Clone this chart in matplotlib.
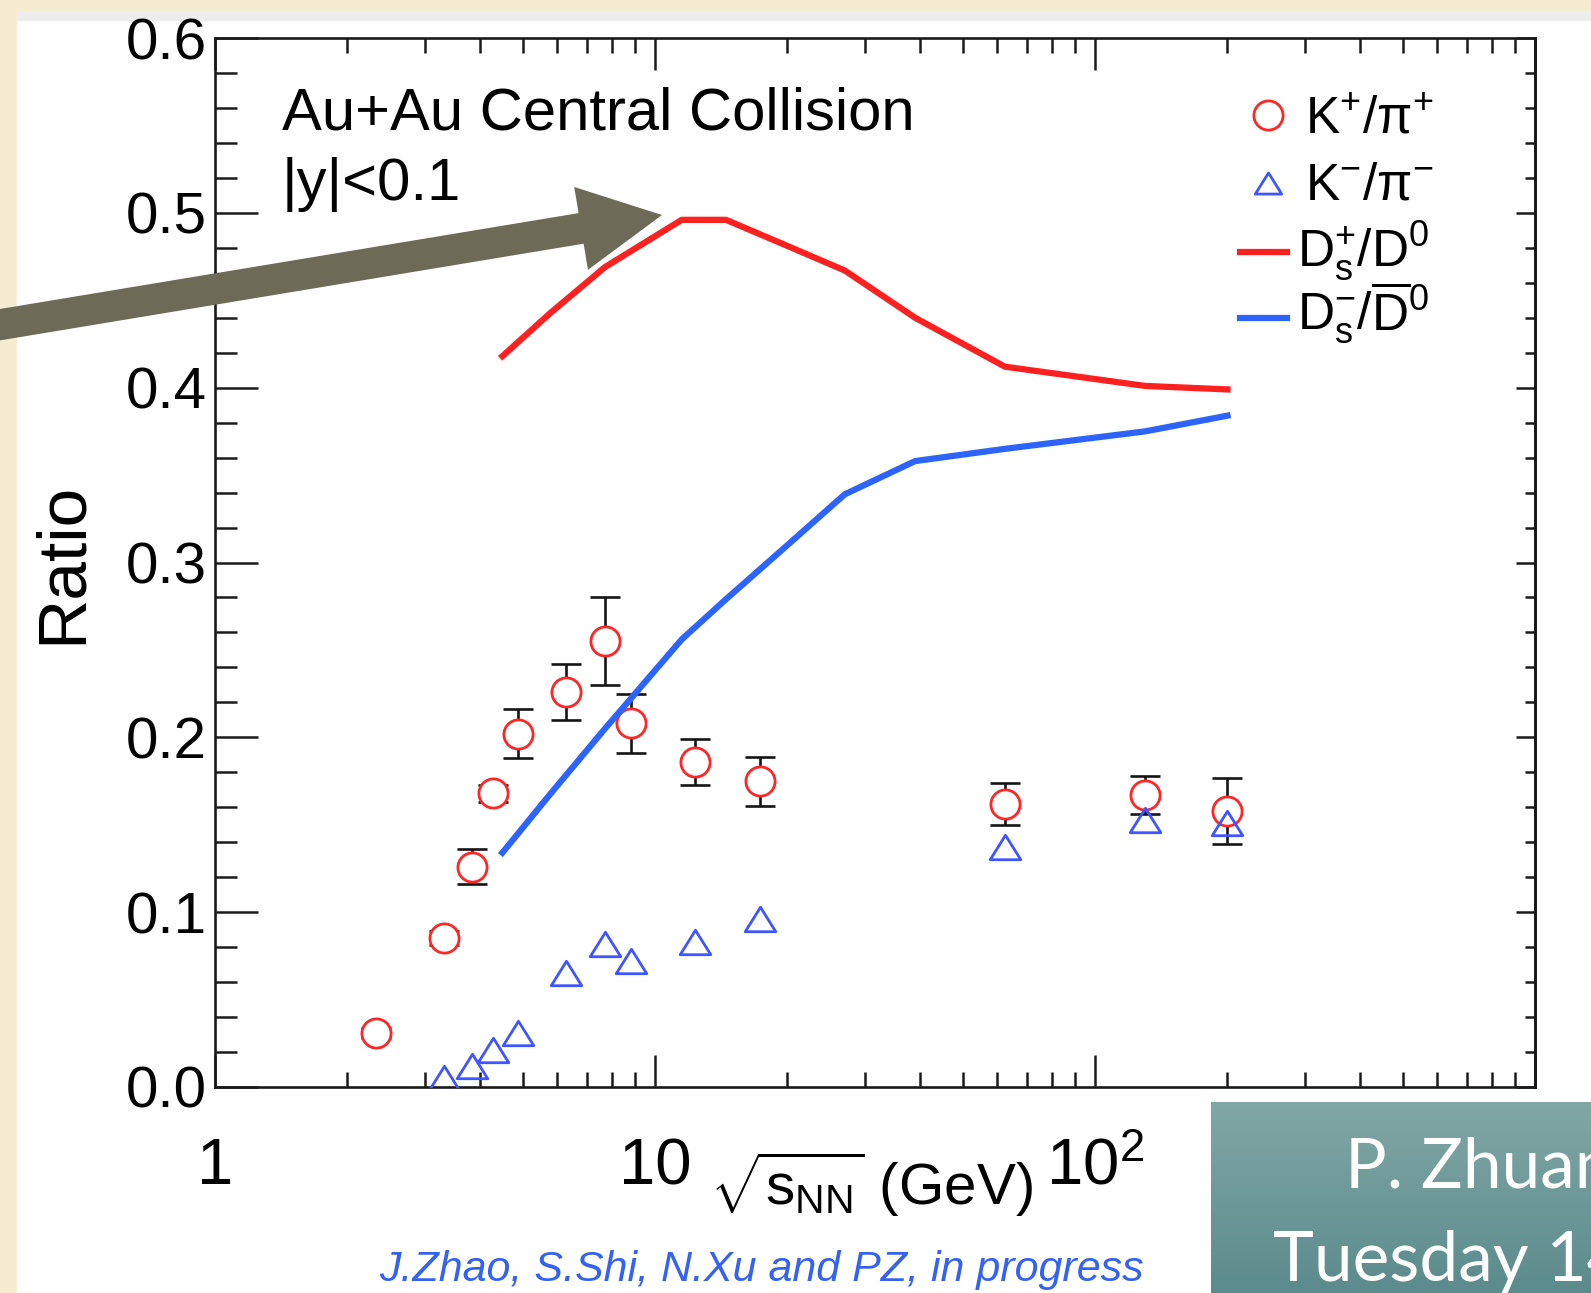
import numpy as np
import matplotlib
matplotlib.use("Agg")
import matplotlib.pyplot as plt
import matplotlib.transforms as mtransforms
from matplotlib.patches import FancyArrow, Rectangle
from matplotlib.lines import Line2D
from matplotlib.path import Path
from matplotlib.colors import LinearSegmentedColormap
from matplotlib.ticker import LogLocator, NullFormatter, MultipleLocator, FixedLocator

plt.rcParams['font.family'] = ['Liberation Sans', 'DejaVu Sans']
plt.rcParams['mathtext.fontset'] = 'custom'
plt.rcParams['mathtext.rm'] = 'Liberation Sans'
plt.rcParams['mathtext.it'] = 'Liberation Sans:italic'
plt.rcParams['mathtext.bf'] = 'Liberation Sans:bold'

# ---- K+/pi+ measurements (AGS, SPS, RHIC) ----
kp_energy = [2.32, 3.32, 3.84, 4.29, 4.88, 6.27, 7.7, 8.8, 12.3, 17.3, 62.4, 130, 200]
kp_ratio = [0.031, 0.085, 0.126, 0.168, 0.202, 0.226, 0.255, 0.208, 0.186, 0.175, 0.162, 0.167, 0.158]
kp_err = [0.003, 0.004, 0.010, 0.005, 0.014, 0.016, 0.025, 0.017, 0.013, 0.014, 0.012, 0.011, 0.019]

# ---- K-/pi- measurements ----
km_energy = [3.32, 3.84, 4.29, 4.88, 6.27, 7.7, 8.8, 12.3, 17.3, 62.4, 130, 200]
km_ratio = [0.005, 0.012, 0.021, 0.031, 0.065, 0.082, 0.072, 0.083, 0.096, 0.137, 0.153, 0.151]

# ---- model curves for Ds/D0 ----
model_energy = [4.5, 5.8, 7.7, 11.5, 14.5, 19.6, 27, 39, 62.4, 130, 200]
ds_plus = [0.418, 0.443, 0.469, 0.496, 0.496, 0.482, 0.467, 0.440, 0.412, 0.401, 0.399]
ds_minus = [0.134, 0.168, 0.205, 0.256, 0.279, 0.308, 0.339, 0.358, 0.365, 0.375, 0.384]

x_ticks = [1, 10, 100, 1000]
x_ticklabels = ['1', '10', '$10^{2}$', '']
y_ticks = [0.0, 0.1, 0.2, 0.3, 0.4, 0.5, 0.6]

W, H = 1591, 1293
fig = plt.figure(figsize=(W / 100, H / 100), dpi=100)
fig.patch.set_facecolor('#f6ecd1')

# pixel coords measured from the top-left corner
px = mtransforms.Affine2D().scale(1, -1).translate(0, H)

# white slide image with a thin grey strip on top
fig.add_artist(Rectangle((17, 12), W, H, transform=px, color='white', zorder=-5))
fig.add_artist(Rectangle((17, 12), W, 8, transform=px, color='#ededed', zorder=-4))

ax = fig.add_axes([215 / W, 1 - 1087 / H, 1320 / W, 1049 / H])
ax.set_facecolor('white')
ax.set_xscale('log')
ax.set_xlim(1, 1000)
ax.set_ylim(0, 0.6)

red = '#ff2626'
blue = '#3f55ff'

ax.errorbar(kp_energy, kp_ratio, yerr=kp_err, fmt='none', ecolor='#151515',
            elinewidth=1.9, capsize=11, capthick=1.9, zorder=3)
ax.plot(kp_energy, kp_ratio, 'o', ms=21, mfc='white', mec=red, mew=2.0, zorder=4)

tri = Path([(0, 0.8), (-1, -0.8), (1, -0.8), (0, 0.8)],
           [Path.MOVETO, Path.LINETO, Path.LINETO, Path.CLOSEPOLY])
ax.plot(km_energy, km_ratio, linestyle='none', marker=tri, ms=22, mfc='none',
        mec=blue, mew=2.0, zorder=5)

ax.plot(model_energy, ds_plus, '-', color='#ff2020', lw=4.5, zorder=6)
ax.plot(model_energy, ds_minus, '-', color='#2d64ff', lw=4.5, zorder=6)

# ---- axis styling (ROOT look) ----
for s in ax.spines.values():
    s.set_linewidth(1.9)
    s.set_color('#1a1a1a')

ax.xaxis.set_major_locator(FixedLocator(x_ticks))
ax.set_xticklabels(x_ticklabels)
ax.xaxis.set_minor_locator(LogLocator(base=10, subs=np.arange(2, 10)))
ax.xaxis.set_minor_formatter(NullFormatter())
ax.tick_params(axis='x', which='major', direction='in', length=23, width=1.8,
               top=True, bottom=True, labelsize=47, pad=70, color='#1a1a1a')
ax.tick_params(axis='x', which='minor', direction='in', length=11, width=1.8,
               top=True, bottom=True, color='#1a1a1a')
for lab in ax.get_xticklabels():
    lab.set_verticalalignment('baseline')

ax.set_yticks(y_ticks)
ax.set_yticklabels([f'{v:.1f}' for v in y_ticks])
ax.yaxis.set_minor_locator(MultipleLocator(0.02))
ax.tick_params(axis='y', which='major', direction='in', length=31, width=1.8,
               left=True, right=False, labelsize=42, pad=6, color='#1a1a1a')
ax.tick_params(axis='y', which='minor', direction='in', length=16, width=1.8,
               left=True, right=False, color='#1a1a1a')

sec = ax.secondary_yaxis('right')
sec.set_yticks(y_ticks)
sec.yaxis.set_minor_locator(MultipleLocator(0.02))
sec.tick_params(axis='y', which='major', direction='in', length=14, width=1.8,
                labelright=False, color='#1a1a1a')
sec.tick_params(axis='y', which='minor', direction='in', length=7, width=1.8,
                color='#1a1a1a')
sec.spines['right'].set_linewidth(1.9)

ax.text(-0.1152, 0.5, 'Ratio', rotation=90, ha='center', va='center',
        fontsize=50, transform=ax.transAxes)
ax.text(0.497, -0.1125, r'$\sqrt{\mathrm{s}_{\mathrm{NN}}}$ (GeV)', ha='center',
        va='baseline', fontsize=42, transform=ax.transAxes)

ax.text(0.0508, 0.9123, 'Au+Au Central Collision', fontsize=43,
        va='baseline', transform=ax.transAxes)
ax.text(0.0508, 0.8456, '|y|<0.1', fontsize=43, va='baseline',
        transform=ax.transAxes)

# ---- legend ----
kx, tx = 0.7977, 0.8258
ax.add_line(Line2D([kx], [0.9266], marker='o', ms=21, mfc='white', mec=red,
                   mew=2.0, transform=ax.transAxes, clip_on=False))
ax.add_line(Line2D([kx], [0.8618], marker=tri, ms=19, mfc='none', mec=blue,
                   mew=2.0, transform=ax.transAxes, clip_on=False))
ax.add_line(Line2D([0.7765, 0.8121], [0.7960, 0.7960], color='#ff2020', lw=4.5,
                   transform=ax.transAxes))
ax.add_line(Line2D([0.7765, 0.8121], [0.7331, 0.7331], color='#2d64ff', lw=4.5,
                   transform=ax.transAxes))
leg_fs = 37
ax.text(tx, 0.9094, r'K$^{+}$/$\mathrm{\pi}^{+}$', fontsize=leg_fs, va='baseline',
        transform=ax.transAxes)
ax.text(tx, 0.8465, r'K$^{-}$/$\mathrm{\pi}^{-}$', fontsize=leg_fs, va='baseline',
        transform=ax.transAxes)
ax.text(tx - 0.006, 0.7827, r'D$_{\mathrm{s}}^{+}$/D$^{0}$', fontsize=leg_fs,
        va='baseline', transform=ax.transAxes)
ax.text(tx - 0.006, 0.7216, r'D$_{\mathrm{s}}^{-}$/$\overline{\mathrm{D}}^{0}$',
        fontsize=leg_fs, va='baseline', transform=ax.transAxes)

fig.text(761, 1281, 'J.Zhao, S.Shi, N.Xu and PZ, in progress', transform=px,
         ha='center', va='baseline', style='italic', color='#3563f0', fontsize=31)

# ---- arrow pointing at the peak ----
fig.add_artist(FancyArrow(-20, 328, 682, -113, width=31, head_width=84,
                          head_length=82, length_includes_head=True,
                          transform=px, color='#6e6a58', lw=0, zorder=10))

# ---- speaker box in the corner ----
box = fig.add_axes([1211 / W, 0, (W - 1211) / W, (H - 1102) / H], zorder=20)
teal = LinearSegmentedColormap.from_list('teal', ['#5c8b8d', '#80a7a5'])
box.imshow(np.linspace(0, 1, 100).reshape(-1, 1)[::-1], cmap=teal,
           aspect='auto', extent=[0, 1, 0, 1])
box.axis('off')
box.text(1345, 1188, 'P. Zhuang', transform=px, color='white', fontsize=50,
         family='Lato', va='baseline', zorder=21)
box.text(1273, 1281, 'Tuesday 14', transform=px, color='white', fontsize=50,
         family='Lato', va='baseline', zorder=21)

fig.savefig('out.png', dpi=100, facecolor=fig.get_facecolor())
